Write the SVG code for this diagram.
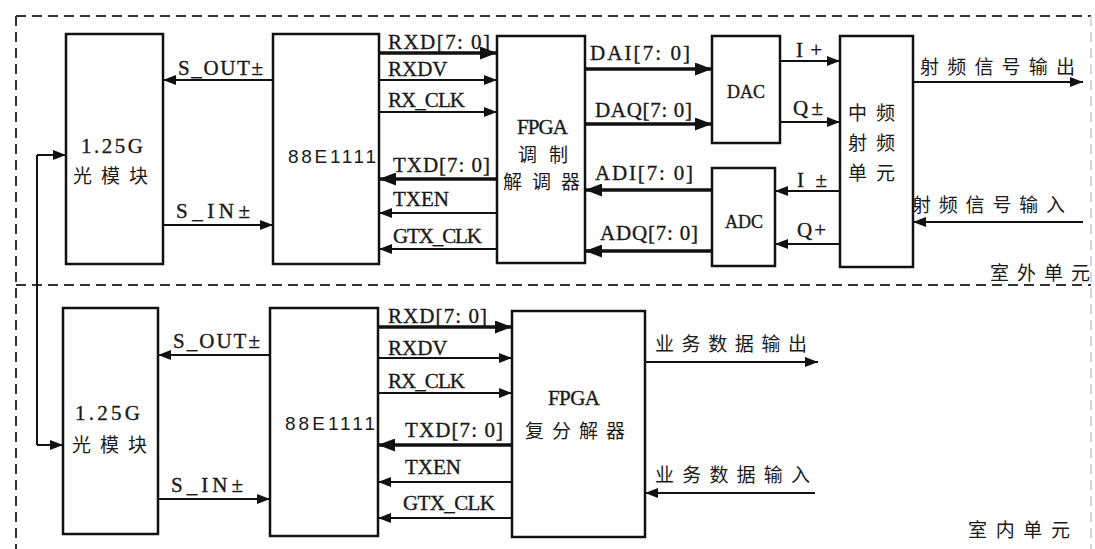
<svg xmlns="http://www.w3.org/2000/svg" width="1095" height="549" viewBox="0 0 1095 549">
<defs>
<marker id="ah" markerUnits="userSpaceOnUse" markerWidth="13" markerHeight="10" refX="13" refY="5" orient="auto"><path d="M0,0 L13,5 L0,10 z" fill="#111"/></marker>
<marker id="ahb" markerUnits="userSpaceOnUse" markerWidth="17" markerHeight="13" refX="17" refY="6.5" orient="auto"><path d="M0,0 L17,6.5 L0,13 z" fill="#111"/></marker>
<style>
.box{fill:#fff;stroke:#111;stroke-width:2.5}
.w{stroke:#111;stroke-width:2;fill:none;marker-end:url(#ah)}
.b{stroke:#111;stroke-width:3.5;fill:none;marker-end:url(#ahb)}
.ln{stroke:#111;stroke-width:2;fill:none}
.dash{stroke:#333;stroke-width:2;stroke-dasharray:10 6;fill:none}
.t{font-family:"Liberation Serif","Times New Roman",serif;font-size:21px;fill:#1a1a1a;stroke:#1a1a1a;stroke-width:0.35}
.s{font-family:"Liberation Sans",Arial,sans-serif;font-size:19px;fill:#1a1a1a}
.c{font-family:"Noto Sans CJK SC","Noto Sans",sans-serif;font-size:19px;fill:#1a1a1a}
</style>
</defs>
<rect width="1095" height="549" fill="#fff"/>
<g id="frames">
<path class="dash" d="M16,16 H1091"/>
<path class="dash" d="M16,16 V549"/>
<path class="dash" d="M16,285 H1091"/>
<path d="M1091,16 V549" stroke="#ccc" stroke-width="1.5" stroke-dasharray="10 6" fill="none"/>
</g>
<g id="opt-top"><rect class="box" x="66" y="34" width="97" height="230"/>
<text class="t" x="81" y="153" textLength="62">1.25G</text>
<text class="c" x="73" y="183" textLength="75">光模块</text></g>
<g id="phy-top"><rect class="box" x="273" y="34" width="106" height="230"/>
<text class="s" x="288" y="163" textLength="88">88E1111</text></g>
<g id="fpga-top"><rect class="box" x="497" y="36" width="88" height="227"/>
<text class="t" x="517" y="134" textLength="51">FPGA</text>
<text class="c" x="518" y="162" textLength="50">调制</text>
<text class="c" x="503" y="189" textLength="77">解调器</text></g>
<g id="dac"><rect class="box" x="712" y="36" width="68" height="107"/>
<text class="t" x="746" y="98" text-anchor="middle" style="font-size:18px">DAC</text></g>
<g id="adc"><rect class="box" x="712" y="168" width="63" height="98"/>
<text class="t" x="744" y="228" text-anchor="middle" style="font-size:18px">ADC</text></g>
<g id="ifrf"><rect class="box" x="840" y="36" width="73" height="231"/>
<text class="c" x="848" y="120">中</text><text class="c" x="876" y="120">频</text>
<text class="c" x="848" y="150">射</text><text class="c" x="876" y="150">频</text>
<text class="c" x="848" y="180">单</text><text class="c" x="876" y="180">元</text></g>
<g id="opt-bot"><rect class="box" x="63" y="308" width="95" height="226"/>
<text class="t" x="75" y="420" textLength="65">1.25G</text>
<text class="c" x="72" y="452" textLength="75">光模块</text></g>
<g id="phy-bot"><rect class="box" x="270" y="308" width="108" height="228"/>
<text class="s" x="285" y="430" textLength="90">88E1111</text></g>
<g id="fpga-bot"><rect class="box" x="512" y="311" width="133" height="226"/>
<text class="t" x="548" y="405" textLength="52">FPGA</text>
<text class="c" x="525" y="438" textLength="100">复分解器</text></g>
<g id="connectors">
<path class="w" d="M273,80 H163"/>
<path class="w" d="M163,225 H273"/>
<path class="b" d="M379,53 H497"/>
<path class="w" d="M379,80 H497"/>
<path class="w" d="M379,112 H497"/>
<path class="b" d="M497,179 H379"/>
<path class="w" d="M497,213 H379"/>
<path class="w" d="M497,249 H379"/>
<path class="b" d="M585,69 H712"/>
<path class="b" d="M585,124 H712"/>
<path class="b" d="M712,190 H585"/>
<path class="b" d="M712,251 H585"/>
<path class="w" d="M780,61 H840"/>
<path class="w" d="M780,122 H840"/>
<path class="w" d="M840,191 H775"/>
<path class="w" d="M840,244 H775"/>
<path class="w" d="M913,82 H1083"/>
<path class="w" d="M1083,222 H913"/>
<path class="w" d="M270,355 H158"/>
<path class="w" d="M158,499 H270"/>
<path class="b" d="M378,327 H512"/>
<path class="w" d="M378,358 H512"/>
<path class="w" d="M378,393 H512"/>
<path class="b" d="M512,445 H378"/>
<path class="w" d="M512,482 H378"/>
<path class="w" d="M512,518 H378"/>
<path class="w" d="M645,362 H818"/>
<path class="w" d="M815,493 H645"/>
<path class="ln" d="M37,155 V445"/>
<path class="w" d="M37,155 H66"/>
<path class="w" d="M37,445 H63"/>
</g>
<g id="labels">
<text class="t" x="178" y="75" textLength="85">S_OUT±</text>
<text class="t" x="176" y="218" textLength="74">S_IN±</text>
<text class="t" x="388" y="49" textLength="102">RXD[7: 0]</text>
<text class="t" x="388" y="76">RXDV</text>
<text class="t" x="388" y="107" textLength="77">RX_CLK</text>
<text class="t" x="393" y="172" textLength="97">TXD[7: 0]</text>
<text class="t" x="393" y="206">TXEN</text>
<text class="t" x="393" y="243" textLength="89">GTX_CLK</text>
<text class="t" x="590" y="60" textLength="100">DAI[7: 0]</text>
<text class="t" x="595" y="117" textLength="97">DAQ[7: 0]</text>
<text class="t" x="595" y="180" textLength="98">ADI[7: 0]</text>
<text class="t" x="600" y="240" textLength="98">ADQ[7: 0]</text>
<text class="t" x="796" y="57" textLength="26">I +</text>
<text class="t" x="793" y="115" textLength="30">Q ±</text>
<text class="t" x="797" y="187" textLength="30">I ±</text>
<text class="t" x="797" y="237" textLength="29">Q +</text>
<text class="c" x="920" y="74" textLength="155">射频信号输出</text>
<text class="c" x="912" y="212" textLength="153">射频信号输入</text>
<text class="c" x="990" y="280" textLength="100">室外单元</text>
<text class="t" x="173" y="348" textLength="87">S_OUT±</text>
<text class="t" x="171" y="492" textLength="72">S_IN±</text>
<text class="t" x="388" y="323" textLength="99">RXD[7: 0]</text>
<text class="t" x="388" y="355">RXDV</text>
<text class="t" x="388" y="388" textLength="77">RX_CLK</text>
<text class="t" x="405" y="437" textLength="98">TXD[7: 0]</text>
<text class="t" x="405" y="474">TXEN</text>
<text class="t" x="403" y="510" textLength="92">GTX_CLK</text>
<text class="c" x="655" y="351" textLength="152">业务数据输出</text>
<text class="c" x="655" y="482" textLength="155">业务数据输入</text>
<text class="c" x="968" y="537" textLength="102">室内单元</text>
</g>
</svg>
